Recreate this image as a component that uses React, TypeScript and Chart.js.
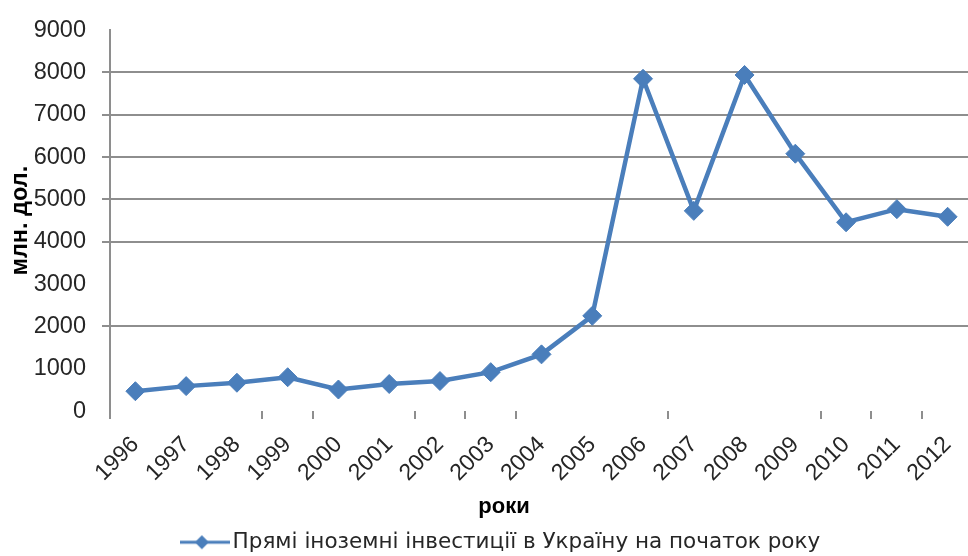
import React, { useEffect, useRef } from "react";
import { Chart, registerables } from "chart.js";

Chart.register(...registerables);

const years = ["1996", "1997", "1998", "1999", "2000", "2001", "2002", "2003", "2004", "2005", "2006", "2007", "2008", "2009", "2010", "2011", "2012"];
const investments = [470, 590, 670, 800, 510, 640, 710, 920, 1340, 2250, 7850, 4730, 7940, 6080, 4460, 4770, 4590];
const seriesLabel = "Прямі іноземні інвестиції в Україну на початок року";
const yTitle = "млн. дол.";
const xTitle = "роки";
const yMin = 0;
const yMax = 9000;
const yStep = 1000;
// grid lines that are not visible in the reference picture
const hiddenYGridValues = [0, 1000, 3000, 9000];
const visibleXTickIndexes = [0, 3, 4, 6, 7, 8, 11, 14, 15, 16];

const BLUE = "#4A7EBB";
const GRID = "#8e8e8e";
const TEXT = "#262626";
const FONT = "'Liberation Sans', Arial, sans-serif";
const LEGEND_FONT = "'DejaVu Sans', sans-serif";
const W = 1008;
const H = 556;

function makeLegendMarker(): HTMLCanvasElement {
  const c = document.createElement("canvas");
  c.width = 50;
  c.height = 18;
  const ctx = c.getContext("2d")!;
  ctx.strokeStyle = BLUE;
  ctx.lineWidth = 3;
  ctx.beginPath();
  ctx.moveTo(0, 9);
  ctx.lineTo(50, 9);
  ctx.stroke();
  ctx.fillStyle = BLUE;
  ctx.beginPath();
  ctx.moveTo(22, 2);
  ctx.lineTo(29, 9);
  ctx.lineTo(22, 16);
  ctx.lineTo(15, 9);
  ctx.closePath();
  ctx.fill();
  return c;
}

export default function App() {
  const ref = useRef<HTMLCanvasElement | null>(null);

  useEffect(() => {
    if (!ref.current) return;
    const marker = makeLegendMarker();
    const chart = new Chart(ref.current, {
      type: "line",
      data: {
        labels: years,
        datasets: [
          {
            label: seriesLabel,
            data: investments,
            borderColor: BLUE,
            backgroundColor: BLUE,
            borderWidth: 4.5,
            tension: 0,
            pointStyle: "rectRot",
            pointRadius: 9.5,
            pointBackgroundColor: BLUE,
            pointBorderColor: BLUE,
            pointBorderWidth: 1,
          },
        ],
      },
      options: {
        animation: false,
        responsive: false,
        devicePixelRatio: 1,
        layout: { padding: { top: 22, left: 0, right: 0, bottom: -7 } },
        scales: {
          x: {
            type: "category",
            offset: true,
            afterFit: (s: any) => {
              s.height = 75;
            },
            grid: {
              display: true,
              offset: true,
              drawOnChartArea: false,
              drawTicks: true,
              tickLength: 8,
              lineWidth: 2,
              color: (ctx: any) => (visibleXTickIndexes.includes(ctx.index) ? GRID : "rgba(0,0,0,0)"),
            },
            border: { display: false },
            ticks: {
              autoSkip: false,
              maxRotation: 45,
              minRotation: 45,
              padding: 12,
              color: TEXT,
              font: { family: FONT, size: 23 },
            },
          },
          y: {
            type: "linear",
            position: "left",
            min: yMin,
            max: yMax,
            afterFit: (s: any) => {
              s.width = 110;
            },
            ticks: {
              stepSize: yStep,
              padding: 16,
              color: TEXT,
              font: { family: FONT, size: 23.5 },
              callback: (v: any) => String(v),
            },
            grid: {
              lineWidth: 2,
              tickLength: 8,
              color: (ctx: any) =>
                ctx.tick && hiddenYGridValues.includes(ctx.tick.value) ? "rgba(0,0,0,0)" : GRID,
            },
            border: { display: true, color: GRID, width: 2 },
            title: {
              display: true,
              text: yTitle,
              color: "#000",
              font: { family: FONT, size: 23.5, weight: "bold" },
              padding: { top: 6, bottom: 0 },
            },
          },
          y2: {
            type: "linear",
            position: "right",
            display: true,
            afterFit: (s: any) => {
              s.width = 35;
            },
            grid: { display: false },
            border: { display: false },
            ticks: { display: false },
          },
        },
        plugins: {
          legend: {
            display: true,
            position: "bottom",
            labels: {
              usePointStyle: true,
              pointStyle: marker as any,
              pointStyleWidth: 34,
              padding: 3,
              color: TEXT,
              font: { family: LEGEND_FONT, size: 21.5 },
            },
          },
          title: {
            display: true,
            position: "bottom",
            weight: 500,
            text: xTitle,
            color: "#000",
            font: { family: FONT, size: 22, weight: "bold" },
            padding: { top: 8, bottom: 8 },
          } as any,
          tooltip: { enabled: false },
        },
      },
    });
    return () => chart.destroy();
  }, []);

  return (
    <div style={{ position: "fixed", left: 0, top: 0, width: 968, height: H, overflow: "hidden", background: "#fff" }}>
      <div style={{ width: W, height: H }}>
        <canvas ref={ref} width={W} height={H} style={{ width: W, height: H, display: "block" }} />
      </div>
    </div>
  );
}
